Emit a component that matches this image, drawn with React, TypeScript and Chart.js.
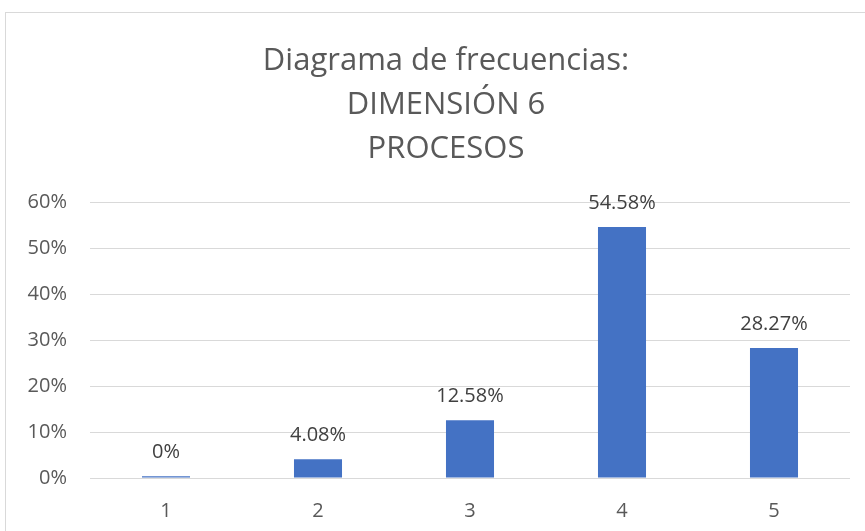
import React, { useEffect, useRef } from "react";
import { Chart, registerables } from "chart.js";

Chart.register(...registerables);

const categories = ["1", "2", "3", "4", "5"];
const values = [0.4, 4.08, 12.58, 54.58, 28.27];
const valueLabels = ["0%", "4.08%", "12.58%", "54.58%", "28.27%"];
const titleLines = ["Diagrama de frecuencias:", "DIMENSIÓN 6", "PROCESOS"];
const yMax = 60;
const yStep = 10;

const FONT = "'Open Sans', 'DejaVu Sans', sans-serif";

export default function App() {
  const ref = useRef<HTMLCanvasElement>(null);
  useEffect(() => {
    if (!ref.current) return;
    const titlePlugin = {
      id: "titleLines",
      afterDraw(chart: any) {
        const ctx = chart.ctx;
        ctx.save();
        ctx.font = `31px ${FONT}`;
        ctx.fillStyle = "#595959";
        ctx.textAlign = "center";
        ctx.textBaseline = "alphabetic";
        titleLines.forEach((t, i) => ctx.fillText(t, 446, 69.5 + i * 44.3));
        ctx.restore();
      },
    };
    const labelPlugin = {
      id: "valueLabels",
      afterDatasetsDraw(chart: any) {
        const ctx = chart.ctx;
        const meta = chart.getDatasetMeta(0);
        ctx.save();
        ctx.font = `20px ${FONT}`;
        ctx.fillStyle = "#404040";
        ctx.textAlign = "center";
        ctx.textBaseline = "middle";
        meta.data.forEach((el: any, i: number) => {
          ctx.fillText(valueLabels[i], el.x, el.y - 24);
        });
        ctx.restore();
      },
    };
    const chart = new Chart(ref.current, {
      type: "bar",
      data: {
        labels: categories,
        datasets: [
          {
            data: values,
            backgroundColor: "#4472C4",
            borderWidth: 0,
            categoryPercentage: 1,
            barPercentage: 0.316,
          },
        ],
      },
      options: {
        responsive: false,
        animation: false,
        layout: { padding: { left: 20, right: 15, top: 202, bottom: 0 } },
        plugins: { legend: { display: false }, tooltip: { enabled: false }, title: { display: false } },
        scales: {
          x: {
            afterFit(scale: any) {
              scale.height = 53;
            },
            grid: { display: false },
            border: { display: false },
            ticks: { color: "#595959", font: { family: FONT, size: 20 }, padding: 13 },
          },
          y: {
            min: 0,
            max: yMax,
            afterFit(scale: any) {
              scale.width = 70;
            },
            grid: { color: "#d9d9d9", lineWidth: 1, drawTicks: false },
            border: { display: false },
            ticks: {
              stepSize: yStep,
              color: "#595959",
              font: { family: FONT, size: 20 },
              padding: 23,
              callback: (v: any) => `${v}%`,
            },
          },
        },
      },
      plugins: [titlePlugin, labelPlugin],
    });
    return () => chart.destroy();
  }, []);
  return (
    <div style={{ position: "fixed", left: 0, top: 0, width: 865, height: 531, background: "#fff", overflow: "hidden" }}>
      <div
        style={{
          position: "absolute",
          left: 5,
          top: 12,
          width: 900,
          height: 600,
          border: "1px solid #d9d9d9",
          boxSizing: "border-box",
        }}
      />
      <canvas ref={ref} width={865} height={531} style={{ position: "absolute", left: 0, top: 0 }} />
    </div>
  );
}
